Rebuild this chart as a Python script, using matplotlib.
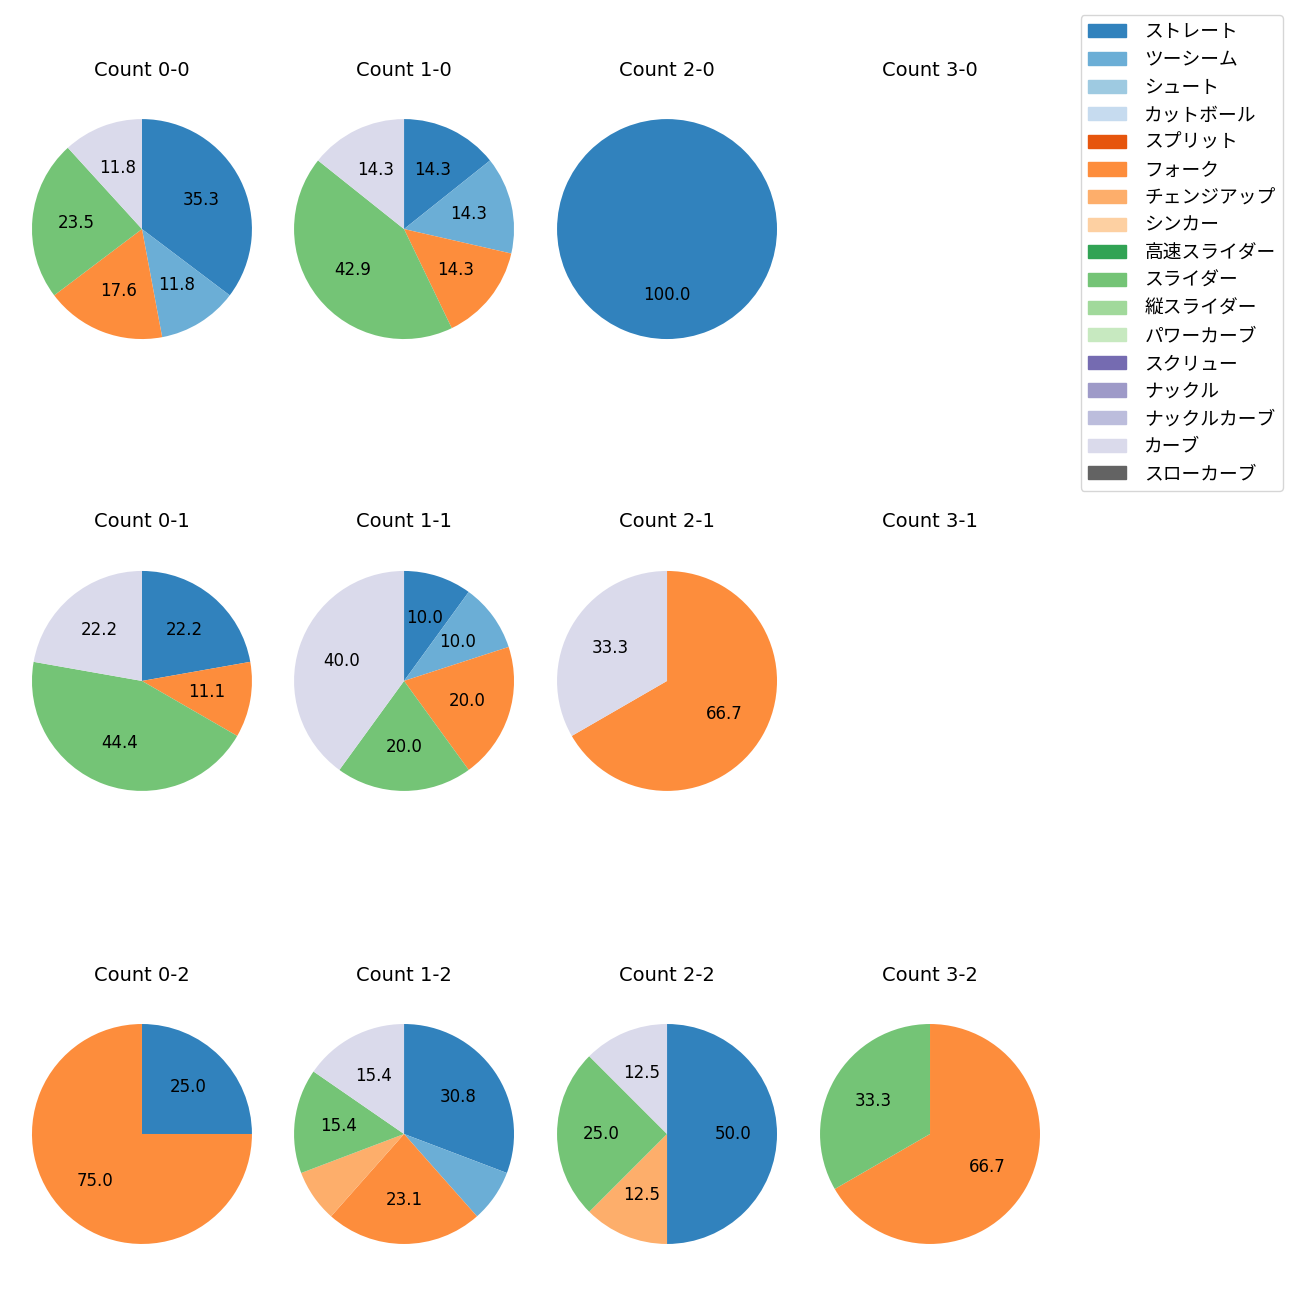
import matplotlib.pyplot as plt

plt.rcParams['font.family'] = ['DejaVu Sans', 'Noto Sans CJK JP']

pitch_types = ['ストレート', 'ツーシーム', 'シュート', 'カットボール', 'スプリット', 'フォーク',
               'チェンジアップ', 'シンカー', '高速スライダー', 'スライダー', '縦スライダー',
               'パワーカーブ', 'スクリュー', 'ナックル', 'ナックルカーブ', 'カーブ', 'スローカーブ']
colors = ['#3182bd', '#6baed6', '#9ecae1', '#c6dbef', '#e6550d', '#fd8d3c', '#fdae6b',
          '#fdd0a2', '#31a354', '#74c476', '#a1d99b', '#c7e9c0', '#756bb1', '#9e9ac8',
          '#bcbddc', '#dadaeb', '#636363']

# pitch counts per ball-strike count (only non-zero types listed)
count_00 = {'ストレート': 6, 'ツーシーム': 2, 'フォーク': 3, 'スライダー': 4, 'カーブ': 2}
count_10 = {'ストレート': 1, 'ツーシーム': 1, 'フォーク': 1, 'スライダー': 3, 'カーブ': 1}
count_20 = {'ストレート': 1}
count_30 = {}
count_01 = {'ストレート': 2, 'フォーク': 1, 'スライダー': 4, 'カーブ': 2}
count_11 = {'ストレート': 1, 'ツーシーム': 1, 'フォーク': 2, 'スライダー': 2, 'カーブ': 4}
count_21 = {'フォーク': 2, 'カーブ': 1}
count_31 = {}
count_02 = {'ストレート': 1, 'フォーク': 3}
count_12 = {'ストレート': 4, 'ツーシーム': 1, 'フォーク': 3, 'チェンジアップ': 1, 'スライダー': 2, 'カーブ': 2}
count_22 = {'ストレート': 4, 'チェンジアップ': 1, 'スライダー': 2, 'カーブ': 1}
count_32 = {'フォーク': 2, 'スライダー': 1}

grid = [[('Count 0-0', count_00), ('Count 1-0', count_10), ('Count 2-0', count_20), ('Count 3-0', count_30)],
        [('Count 0-1', count_01), ('Count 1-1', count_11), ('Count 2-1', count_21), ('Count 3-1', count_31)],
        [('Count 0-2', count_02), ('Count 1-2', count_12), ('Count 2-2', count_22), ('Count 3-2', count_32)]]

fig = plt.figure(figsize=(13, 13), dpi=100)

xc = [0.1092, 0.3108, 0.5131, 0.7154]
yc = [0.8238, 0.4762, 0.1277]
size = 0.2115

for r in range(3):
    for c in range(4):
        title, data = grid[r][c]
        ax = fig.add_axes([xc[c] - size / 2, yc[r] - size / 2, size, size])
        ax.set_title(title, fontsize=14, pad=11.5)
        if not data:
            ax.axis('off')
            continue
        vals = list(data.values())
        cols = [colors[pitch_types.index(k)] for k in data]
        ax.pie(vals, colors=cols, startangle=90, counterclock=False,
               autopct=lambda p: f'{p:.1f}' if p >= 10 else '',
               textprops={'fontsize': 12})

handles = [plt.Rectangle((0, 0), 1, 1, color=col) for col in colors]
fig.legend(handles, pitch_types, loc='upper right', bbox_to_anchor=(0.987, 0.9885),
           borderaxespad=0, fontsize=13.5, handletextpad=1.0, labelspacing=0.46)

fig.savefig('out.png')
